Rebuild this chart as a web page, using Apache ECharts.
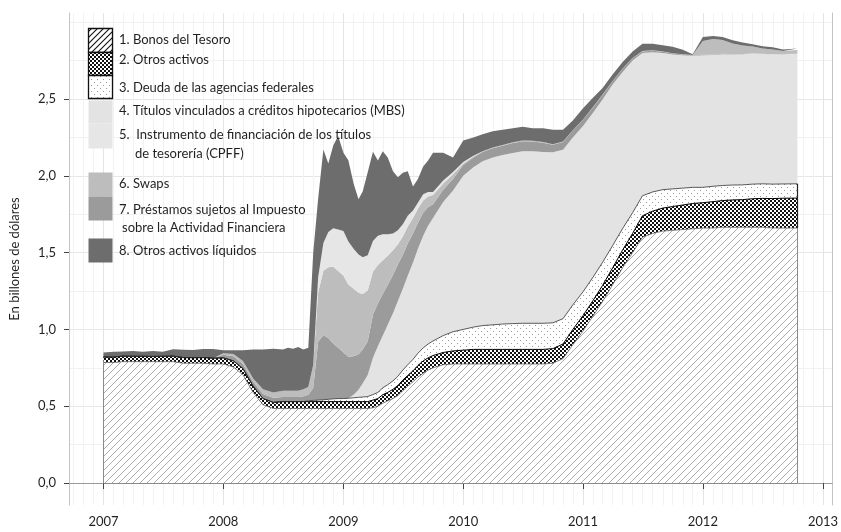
<!DOCTYPE html>
<html lang="es">
<head>
<meta charset="utf-8">
<title>Activos de la Reserva Federal</title>
<script src="https://cdn.jsdelivr.net/npm/echarts@6/dist/echarts.min.js"></script>
<style>
  html, body { margin: 0; padding: 0; background: #fff; }
  #grafico { width: 841px; height: 532px; }
</style>
</head>
<body>
<div id="grafico"></div>
<script>
// Fechas de observación, comunes a todas las capas apiladas
const fechas = [
  '2007-01-01', '2007-02-01', '2007-03-01', '2007-04-01', '2007-05-01', '2007-06-01',
  '2007-07-01', '2007-08-01', '2007-09-01', '2007-10-01', '2007-11-01', '2007-12-01',
  '2008-01-01', '2008-02-01', '2008-03-01', '2008-04-01', '2008-05-01', '2008-06-01',
  '2008-07-01', '2008-07-16', '2008-08-01', '2008-08-16', '2008-09-01', '2008-09-16',
  '2008-10-01', '2008-10-16', '2008-11-01', '2008-11-16', '2008-12-01', '2008-12-16',
  '2009-01-01', '2009-01-16', '2009-02-01', '2009-02-16', '2009-03-01', '2009-03-16',
  '2009-04-01', '2009-04-16', '2009-05-01', '2009-05-16', '2009-06-01', '2009-06-16',
  '2009-07-01', '2009-07-16', '2009-08-01', '2009-08-16', '2009-09-01', '2009-09-16',
  '2009-10-01', '2009-11-01', '2009-12-01',
  '2010-01-01', '2010-02-01', '2010-03-01', '2010-04-01', '2010-05-01', '2010-06-01',
  '2010-07-01', '2010-08-01', '2010-09-01', '2010-10-01', '2010-11-01', '2010-12-01',
  '2011-01-01', '2011-02-01', '2011-03-01', '2011-04-01', '2011-05-01', '2011-06-01',
  '2011-07-01', '2011-08-01', '2011-09-01', '2011-10-01', '2011-11-01', '2011-12-01',
  '2012-01-01', '2012-02-01', '2012-03-01', '2012-04-01', '2012-05-01', '2012-06-01',
  '2012-07-01', '2012-08-01', '2012-09-01', '2012-10-15'
];

// 1. Bonos del Tesoro (billones de dólares)
const tesoro = [
  0.785, 0.785, 0.79, 0.79, 0.79, 0.79, 0.79, 0.79, 0.78, 0.78, 0.78, 0.775,
  0.775, 0.755, 0.705, 0.59, 0.51, 0.485,
  0.485, 0.485, 0.485, 0.485, 0.485, 0.485, 0.485, 0.485, 0.485, 0.485, 0.485, 0.485,
  0.485, 0.485, 0.485, 0.485, 0.485, 0.485, 0.49, 0.50, 0.52, 0.535, 0.55, 0.57,
  0.60, 0.63, 0.66, 0.69, 0.715, 0.735, 0.75, 0.77, 0.775,
  0.775, 0.775, 0.775, 0.775, 0.775, 0.775, 0.775, 0.775, 0.775, 0.78, 0.81, 0.90,
  0.99, 1.09, 1.18, 1.29, 1.40, 1.50, 1.60, 1.625, 1.64, 1.645, 1.65, 1.655,
  1.66, 1.66, 1.665, 1.665, 1.665, 1.665, 1.665, 1.66, 1.66, 1.66
];

// 2. Otros activos
const otrosActivos = [
  0.035, 0.035, 0.036, 0.035, 0.035, 0.034, 0.035, 0.036, 0.037, 0.036, 0.037, 0.038,
  0.04, 0.04, 0.04, 0.04, 0.04, 0.04,
  0.045, 0.045, 0.045, 0.045, 0.045, 0.045, 0.045, 0.045, 0.045, 0.045, 0.045, 0.045,
  0.045, 0.045, 0.045, 0.045, 0.045, 0.045, 0.05, 0.05, 0.055, 0.055, 0.06, 0.065,
  0.07, 0.07, 0.07, 0.075, 0.08, 0.08, 0.08, 0.08, 0.085,
  0.09, 0.095, 0.095, 0.095, 0.095, 0.095, 0.095, 0.095, 0.095, 0.095, 0.095, 0.10,
  0.10, 0.10, 0.105, 0.11, 0.115, 0.125, 0.14, 0.145, 0.15, 0.155, 0.16, 0.165,
  0.165, 0.172, 0.174, 0.178, 0.18, 0.186, 0.188, 0.192, 0.194, 0.195
];

// 3. Deuda de las agencias federales
const agencias = [
  0, 0, 0, 0, 0, 0, 0, 0, 0, 0, 0, 0,
  0, 0, 0, 0, 0, 0,
  0, 0, 0, 0, 0, 0.005, 0.008, 0.01, 0.012, 0.015, 0.018, 0.02,
  0.02, 0.022, 0.025, 0.028, 0.03, 0.033, 0.036, 0.04, 0.045, 0.05, 0.055, 0.06,
  0.065, 0.07, 0.075, 0.08, 0.085, 0.09, 0.095, 0.11, 0.125,
  0.135, 0.145, 0.155, 0.16, 0.165, 0.168, 0.17, 0.17, 0.17, 0.168, 0.165, 0.16,
  0.155, 0.152, 0.15, 0.145, 0.14, 0.135, 0.13, 0.125, 0.12, 0.115, 0.11, 0.105,
  0.10, 0.10, 0.098, 0.097, 0.096, 0.095, 0.095, 0.094, 0.093, 0.093
];

// 4. Títulos vinculados a créditos hipotecarios (MBS)
const mbs = [
  0, 0, 0, 0, 0, 0, 0, 0, 0, 0, 0, 0,
  0, 0, 0, 0, 0, 0,
  0, 0, 0, 0, 0, 0, 0, 0, 0, 0, 0, 0,
  0, 0, 0.02, 0.05, 0.09, 0.14, 0.24, 0.30, 0.34, 0.39, 0.44, 0.49,
  0.53, 0.58, 0.63, 0.68, 0.73, 0.77, 0.80, 0.87, 0.92,
  1.00, 1.04, 1.07, 1.09, 1.10, 1.11, 1.12, 1.12, 1.115, 1.11, 1.10, 1.09,
  1.08, 1.07, 1.06, 1.05, 1.02, 0.99, 0.93, 0.91, 0.89, 0.875, 0.865, 0.855,
  0.86, 0.855, 0.855, 0.85, 0.85, 0.85, 0.845, 0.845, 0.845, 0.845
];

// 7. Préstamos sujetos al Impuesto sobre la Actividad Financiera
const prestamos = [
  0, 0, 0, 0, 0, 0, 0, 0, 0, 0, 0, 0,
  0.02, 0.03, 0.03, 0.03, 0.03, 0.03,
  0.03, 0.03, 0.03, 0.03, 0.035, 0.04, 0.08, 0.38, 0.42, 0.40, 0.36, 0.33,
  0.30, 0.27, 0.25, 0.23, 0.22, 0.22, 0.28, 0.28, 0.27, 0.26, 0.25, 0.24,
  0.22, 0.21, 0.19, 0.17, 0.15, 0.12, 0.09, 0.08, 0.075,
  0.07, 0.065, 0.06, 0.06, 0.06, 0.065, 0.065, 0.063, 0.06, 0.05, 0.05, 0.045,
  0.04, 0.035, 0.03, 0.02, 0.02, 0.015, 0.01, 0.01, 0.008, 0.006, 0.005, 0.004,
  0.003, 0.003, 0.002, 0.002, 0.002, 0.001, 0.001, 0.001, 0.001, 0.001
];

// 6. Swaps
const swaps = [
  0, 0, 0, 0, 0, 0, 0, 0, 0, 0, 0, 0,
  0.01, 0.015, 0.02, 0.02, 0.03, 0.035,
  0.04, 0.04, 0.04, 0.04, 0.045, 0.05, 0.15, 0.32, 0.42, 0.46, 0.50, 0.50,
  0.50, 0.47, 0.44, 0.40, 0.36, 0.33, 0.28, 0.25, 0.22, 0.19, 0.16, 0.13,
  0.12, 0.11, 0.10, 0.09, 0.08, 0.07, 0.06, 0.04, 0.03,
  0.01, 0.005, 0.005, 0.005, 0.005, 0.005, 0.005, 0.005, 0.005, 0.003, 0.003, 0.002,
  0.002, 0.002, 0.002, 0.002, 0.002, 0.002, 0.002, 0.002, 0.002, 0.002, 0.002, 0.002,
  0.09, 0.10, 0.09, 0.07, 0.055, 0.045, 0.035, 0.03, 0.02, 0.025
];

// 5. Instrumento de financiación de los títulos de tesorería (CPFF)
const cpff = [
  0, 0, 0, 0, 0, 0, 0, 0, 0, 0, 0, 0,
  0, 0, 0, 0, 0, 0,
  0, 0, 0, 0, 0, 0, 0, 0.10, 0.18, 0.23, 0.25, 0.27,
  0.29, 0.28, 0.26, 0.25, 0.24, 0.23, 0.20, 0.19, 0.17, 0.14, 0.11, 0.09,
  0.08, 0.07, 0.05, 0.04, 0.04, 0.03, 0.02, 0.02, 0.015,
  0.01, 0.005, 0, 0, 0, 0, 0, 0, 0, 0, 0, 0,
  0, 0, 0, 0, 0, 0, 0, 0, 0, 0, 0, 0,
  0, 0, 0, 0, 0, 0, 0, 0, 0, 0
];

// 8. Otros activos líquidos
const liquidos = [
  0.03, 0.035, 0.03, 0.035, 0.03, 0.035, 0.03, 0.045, 0.05, 0.05, 0.055, 0.06,
  0.02, 0.025, 0.07, 0.19, 0.26, 0.285,
  0.27, 0.28, 0.275, 0.285, 0.26, 0.255, 0.73, 0.51, 0.61, 0.445, 0.54, 0.61,
  0.51, 0.53, 0.425, 0.36, 0.43, 0.54, 0.58, 0.49, 0.54, 0.50, 0.405, 0.345,
  0.335, 0.29, 0.155, 0.155, 0.18, 0.205, 0.255, 0.18, 0.095,
  0.14, 0.12, 0.11, 0.105, 0.10, 0.092, 0.09, 0.082, 0.09, 0.094, 0.077, 0.063,
  0.073, 0.061, 0.043, 0.043, 0.043, 0.043, 0.048, 0.043, 0.04, 0.042, 0.028, 0.005,
  0.025, 0.02, 0.02, 0.02, 0.02, 0.015, 0.015, 0.015, 0.01, 0.01
];

// Textos de la leyenda
const nombres = [
  '1. Bonos del Tesoro',
  '2. Otros activos',
  '3. Deuda de las agencias federales',
  '4. Títulos vinculados a créditos hipotecarios (MBS)',
  '5.  Instrumento de financiación de los títulos',
  '6. Swaps',
  '7. Préstamos sujetos al Impuesto',
  '8. Otros activos líquidos'
];
const nombresSegundaLinea = ['de tesorería (CPFF)', 'sobre la Actividad Financiera'];

// Etiquetas de los ejes
const anosEje = [2007, 2008, 2009, 2010, 2011, 2012, 2013];
const valoresEje = [0, 0.5, 1, 1.5, 2, 2.5];
const valoresRejillaMenor = [0.25, 0.75, 1.25, 1.75, 2.25, 2.75, 3];

// 'AAAA-MM-DD' a marca de tiempo UTC (ms)
const aTiempo = (txt) => Date.parse(txt + 'T00:00:00Z');
const tiempos = fechas.map(aTiempo);
const ticksAnos = anosEje.map(a => Date.UTC(a, 0, 1));

// Líneas de rejilla mensuales (los años van en el eje principal)
const mesesRejilla = [];
for (let a = 2006; a <= 2013; a++) {
  for (let m = 1; m < 12; m++) mesesRejilla.push(Date.UTC(a, m, 1));
}

// Límites del panel
const xMin = Date.UTC(2006, 8, 18);
const xMax = Date.UTC(2013, 0, 29);

// Tramas dibujadas en un pequeño canvas
const crearPatron = (tam, dibujar) => {
  const c = document.createElement('canvas');
  c.width = tam;
  c.height = tam;
  const ctx = c.getContext('2d');
  dibujar(ctx, tam);
  return { image: c, repeat: 'repeat' };
};

const patronRayado = (color, ancho, tam) => crearPatron(tam, (ctx, s) => {
  ctx.fillStyle = '#ffffff';
  ctx.fillRect(0, 0, s, s);
  ctx.strokeStyle = color;
  ctx.lineWidth = ancho;
  ctx.beginPath();
  ctx.moveTo(0, s); ctx.lineTo(s, 0);
  ctx.moveTo(-1, 1); ctx.lineTo(1, -1);
  ctx.moveTo(s - 1, s + 1); ctx.lineTo(s + 1, s - 1);
  ctx.stroke();
});

// Damero de puntos blancos sobre negro
const patronCuadros = crearPatron(4, (ctx) => {
  ctx.fillStyle = '#111111';
  ctx.fillRect(0, 0, 4, 4);
  ctx.fillStyle = '#ffffff';
  ctx.fillRect(0, 0, 2, 2);
  ctx.fillRect(2, 2, 2, 2);
});

const patronPuntos = crearPatron(6, (ctx) => {
  ctx.fillStyle = '#ffffff';
  ctx.fillRect(0, 0, 6, 6);
  ctx.fillStyle = '#9a9a9a';
  ctx.fillRect(1, 1, 1, 1);
  ctx.fillRect(4, 4, 1, 1);
});

const rayadoSerie = patronRayado('#a4a4a4', 0.9, 7);
const rayadoLeyenda = patronRayado('#111111', 1.1, 6);

// Colores de las capas grises
const gris = {
  mbs: '#e3e3e4',
  cpff: '#e6e6e6',
  swaps: '#bdbdbd',
  prestamos: '#9b9b9b',
  liquidos: '#6d6d6d'
};

// Orden de apilamiento (de abajo arriba)
const capas = [
  { nombre: nombres[0], datos: tesoro, relleno: rayadoSerie, linea: '#6a6a6a', ancho: 0.8 },
  { nombre: nombres[1], datos: otrosActivos, relleno: patronCuadros, linea: '#000000', ancho: 1 },
  { nombre: nombres[2], datos: agencias, relleno: patronPuntos, linea: '#333333', ancho: 0.8 },
  { nombre: nombres[3], datos: mbs, relleno: gris.mbs, linea: gris.mbs, ancho: 0 },
  { nombre: nombres[6], datos: prestamos, relleno: gris.prestamos, linea: gris.prestamos, ancho: 0 },
  { nombre: nombres[5], datos: swaps, relleno: gris.swaps, linea: gris.swaps, ancho: 0 },
  { nombre: nombres[4], datos: cpff, relleno: gris.cpff, linea: gris.cpff, ancho: 0 },
  { nombre: nombres[7], datos: liquidos, relleno: gris.liquidos, linea: gris.liquidos, ancho: 0 }
];

const ultimo = tiempos.length - 1;
const xIni = tiempos[0];
const xFin = tiempos[ultimo];
const baseFin = tesoro[ultimo] + otrosActivos[ultimo] + agencias[ultimo];

const series = capas.map((c, k) => {
  const s = {
    name: c.nombre,
    type: 'line',
    stack: 'activos',
    // eje temporal oculto: con él el apilado se hace sobre el valor
    xAxisIndex: 2,
    symbol: 'none',
    silent: true,
    data: c.datos.map((v, i) => [tiempos[i], v]),
    lineStyle: { color: c.linea, width: c.ancho },
    itemStyle: { color: c.linea },
    areaStyle: { color: c.relleno, opacity: 1 }
  };
  if (k === 0) {
    // Contorno gris de la zona rayada
    s.markLine = {
      silent: true,
      symbol: 'none',
      label: { show: false },
      lineStyle: { color: '#8a8a8a', width: 1, type: 'solid' },
      data: [
        [{ coord: [xIni, 0] }, { coord: [xFin, 0] }],
        [{ coord: [xIni, 0] }, { coord: [xIni, tesoro[0]] }],
        [{ coord: [xFin, 0] }, { coord: [xFin, tesoro[ultimo]] }]
      ]
    };
  }
  if (k === 2) {
    s.markLine = {
      silent: true,
      symbol: 'none',
      label: { show: false },
      lineStyle: { color: '#222222', width: 1.2, type: 'solid' },
      data: [
        [{ coord: [xFin, tesoro[ultimo]] }, { coord: [xFin, baseFin] }]
      ]
    };
  }
  return s;
});

// Leyenda: muestras y textos
const muestras = [
  { y: 28, h: 24, relleno: rayadoLeyenda, borde: true },
  { y: 52, h: 23, relleno: patronCuadros, borde: true },
  { y: 75, h: 23, relleno: patronPuntos, borde: true },
  { y: 100, h: 23, relleno: gris.mbs },
  { y: 123, h: 25, relleno: gris.cpff },
  { y: 172, h: 24, relleno: gris.swaps },
  { y: 196, h: 24, relleno: gris.prestamos },
  { y: 238, h: 24, relleno: gris.liquidos }
];
const textosLeyenda = [
  { t: nombres[0], x: 119, y: 40 },
  { t: nombres[1], x: 119, y: 60 },
  { t: nombres[2], x: 119, y: 88 },
  { t: nombres[3], x: 119, y: 111 },
  { t: nombres[4], x: 119, y: 135 },
  { t: nombresSegundaLinea[0], x: 135, y: 154 },
  { t: nombres[5], x: 119, y: 184 },
  { t: nombres[6], x: 119, y: 210 },
  { t: nombresSegundaLinea[1], x: 122, y: 228 },
  { t: nombres[7], x: 119, y: 251 }
];

const graficos = [
  ...muestras.map(m => ({
    type: 'rect',
    shape: { x: 88.5, y: m.y + 0.5, width: 24, height: m.h },
    style: {
      fill: m.relleno,
      stroke: m.borde ? '#111111' : null,
      lineWidth: m.borde ? 1.3 : 0
    },
    z: 10
  })),
  ...textosLeyenda.map(t => ({
    type: 'text',
    x: t.x,
    y: t.y,
    style: {
      text: t.t,
      fill: '#231f20',
      font: '13px Lato',
      verticalAlign: 'middle'
    },
    z: 10
  }))
];

const chart = echarts.init(document.getElementById('grafico'));

chart.setOption({
  animation: false,
  backgroundColor: '#ffffff',
  textStyle: { fontFamily: 'Lato' },
  grid: { left: 64, right: 6, top: 13, bottom: 27, containLabel: false },
  xAxis: [
    {
      type: 'value',
      min: xMin,
      max: xMax,
      axisLine: { show: true, lineStyle: { color: '#9a9a9a', width: 1.2 } },
      axisTick: { show: true, length: 6, customValues: ticksAnos, lineStyle: { color: '#444' } },
      axisLabel: {
        customValues: ticksAnos,
        margin: 10,
        fontSize: 13,
        color: '#231f20',
        formatter: (v) => String(new Date(v).getUTCFullYear())
      },
      splitLine: { show: true, lineStyle: { color: '#e4e4e4', width: 1 } }
    },
    {
      type: 'value',
      position: 'top',
      min: xMin,
      max: xMax,
      axisLine: { show: false },
      axisTick: { show: false, customValues: mesesRejilla },
      axisLabel: { show: false },
      splitLine: { show: true, lineStyle: { color: '#f2f2f2', width: 1 } }
    },
    {
      type: 'time',
      show: false,
      min: xMin,
      max: xMax
    }
  ],
  yAxis: [
    {
      type: 'value',
      min: -0.143,
      max: 3.06,
      name: 'En billones de dólares',
      nameLocation: 'middle',
      nameGap: 48,
      nameTextStyle: { fontSize: 13, color: '#231f20' },
      axisLine: { show: true, lineStyle: { color: '#c4c4c4' } },
      axisTick: { show: true, length: 5, customValues: valoresEje, lineStyle: { color: '#444' } },
      axisLabel: {
        customValues: valoresEje,
        margin: 13,
        fontSize: 13,
        color: '#231f20',
        formatter: (v) => v.toFixed(1).replace('.', ',')
      },
      splitLine: { show: true, lineStyle: { color: '#e6e6e6', width: 1 } }
    },
    {
      type: 'value',
      position: 'right',
      min: -0.143,
      max: 3.06,
      axisLine: { show: true, lineStyle: { color: '#c4c4c4' } },
      axisTick: { show: false, customValues: valoresRejillaMenor },
      axisLabel: { show: false },
      splitLine: { show: true, lineStyle: { color: '#f1f1f1', width: 1 } }
    }
  ],
  series: series,
  graphic: graficos
});
</script>
</body>
</html>
